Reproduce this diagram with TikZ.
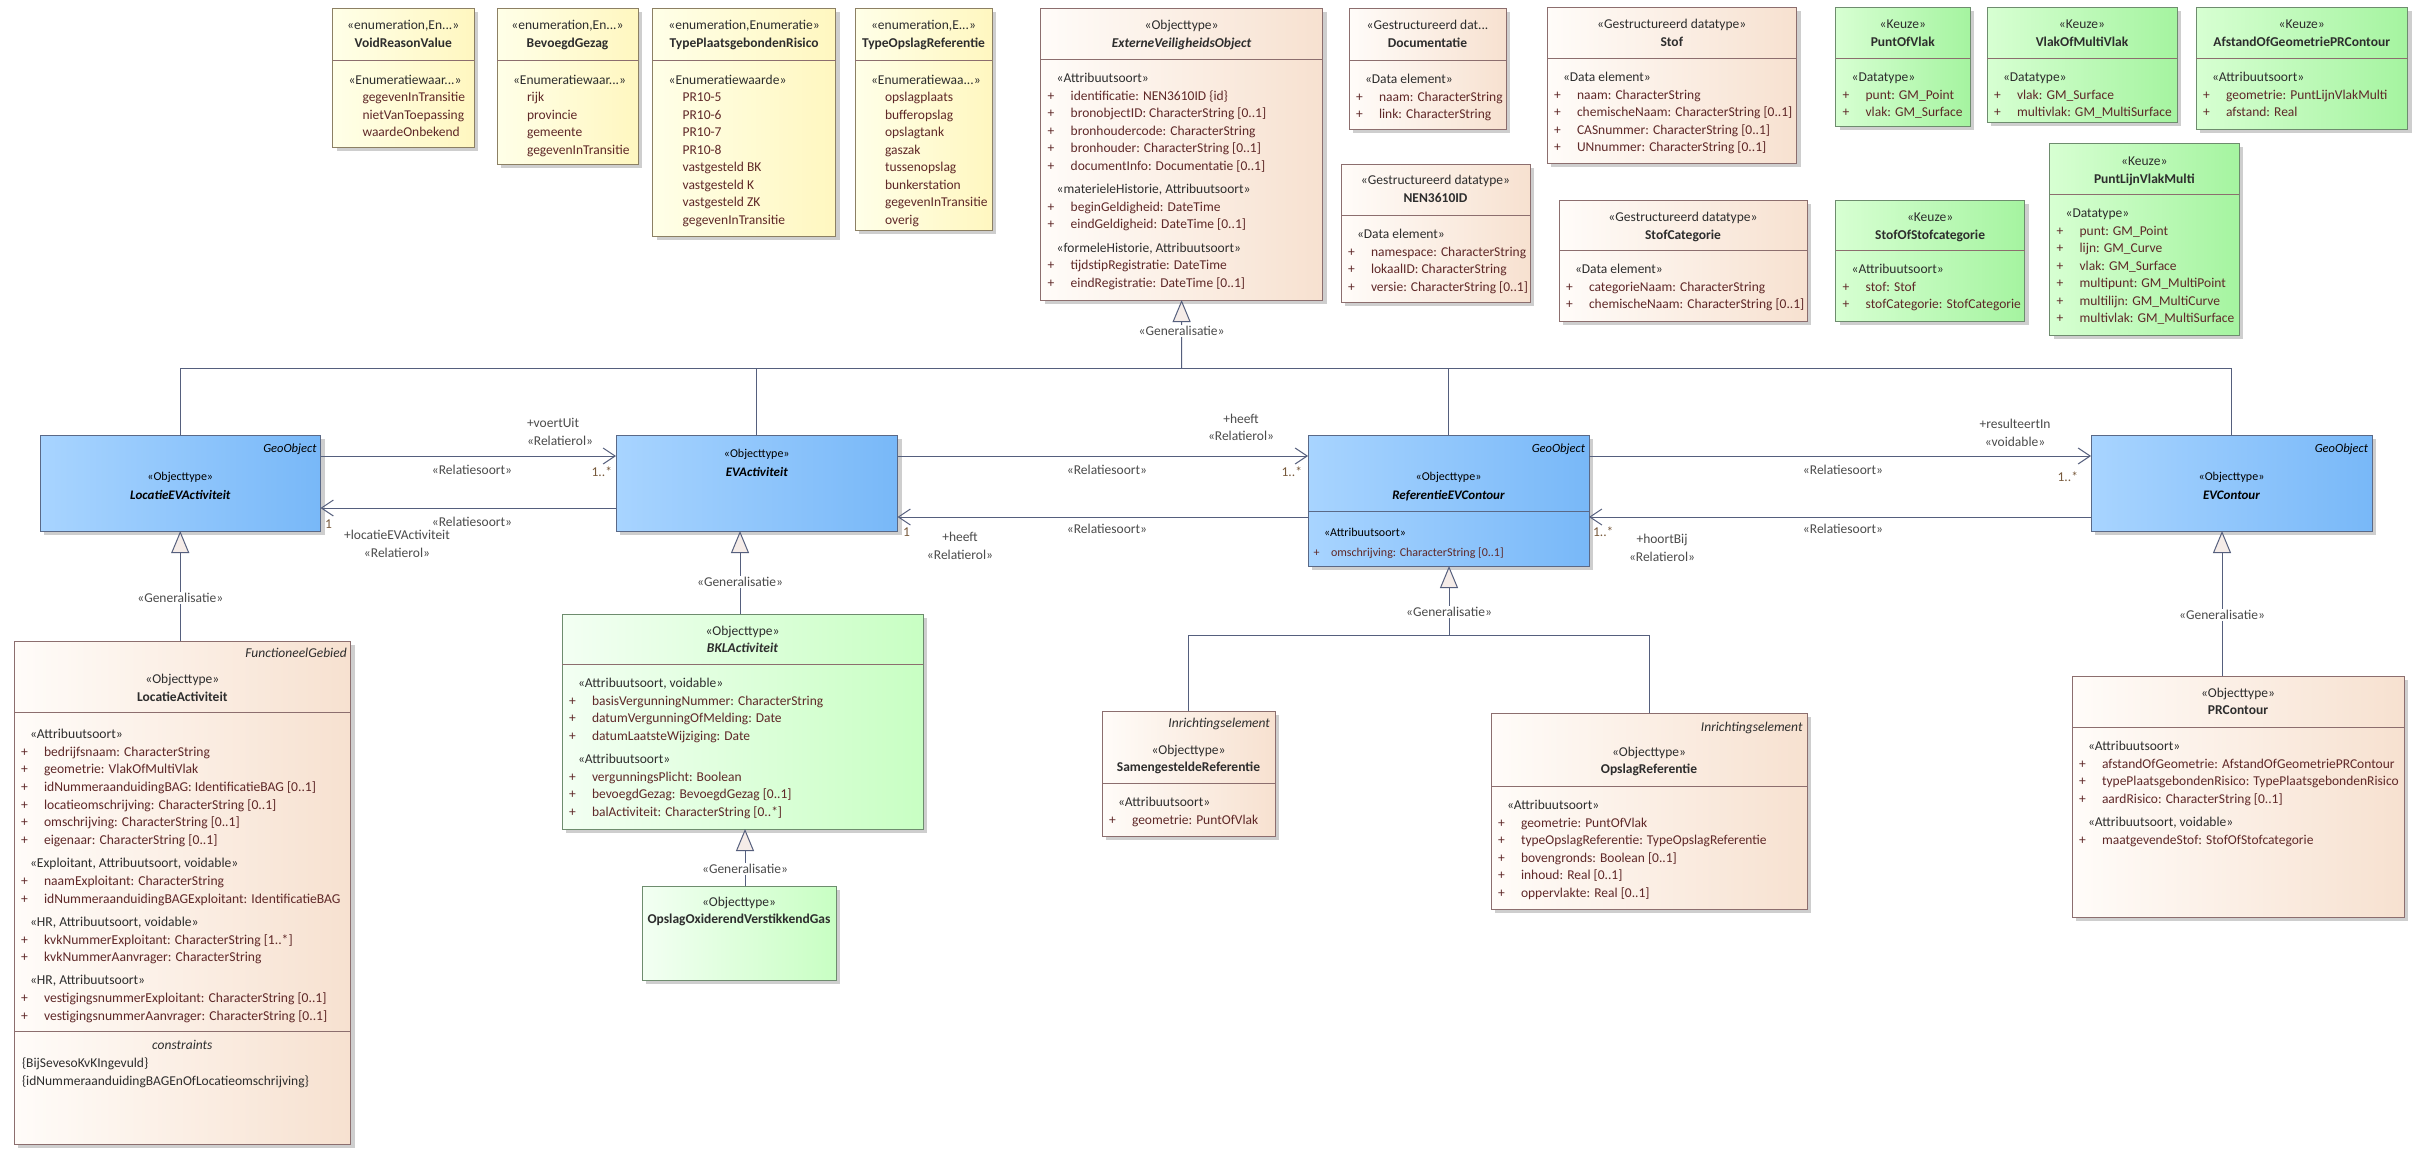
\documentclass[tikz,border=0pt]{standalone}
\usepackage{fontspec}
\setmainfont{Carlito}
\usetikzlibrary{arrows.meta,shadows}
\definecolor{stcol}{RGB}{45,45,45}
\definecolor{namecol}{RGB}{45,45,45}
\definecolor{attcol}{RGB}{95,40,40}
\definecolor{lblcol}{RGB}{75,75,75}
\definecolor{mulcol}{RGB}{120,90,60}
\definecolor{linecol}{RGB}{85,95,125}
\definecolor{genfill}{RGB}{245,236,232}
\definecolor{enumL}{RGB}{255,255,232}
\definecolor{enumR}{RGB}{255,247,192}
\definecolor{enumBd}{RGB}{140,128,100}
\definecolor{peachL}{RGB}{255,252,249}
\definecolor{peachR}{RGB}{247,225,208}
\definecolor{peachBd}{RGB}{140,110,110}
\definecolor{keuzeL}{RGB}{215,255,210}
\definecolor{keuzeR}{RGB}{165,244,160}
\definecolor{greenBd}{RGB}{110,140,110}
\definecolor{bklL}{RGB}{243,255,243}
\definecolor{bklR}{RGB}{200,255,195}
\definecolor{blueL}{RGB}{168,212,255}
\definecolor{blueR}{RGB}{120,184,248}
\definecolor{blueBd}{RGB}{90,105,135}
\newcommand\fmain{\fontsize{13.5}{17.5}\selectfont}
\newcommand\bxstc[1]{{\color{stcol}#1}}
\newcommand\bxnm[1]{{\bfseries\color{namecol}#1}}
\newcommand\bxnmi[1]{{\bfseries\itshape\color{namecol}#1}}
\newcommand\bxst[1]{\hspace*{9pt}{\color{stcol}#1}}
\newcommand\bxat[1]{\makebox[23pt][l]{\color{attcol}+}{\color{attcol}#1}}
\newcommand\bxev[1]{\hspace*{23pt}{\color{attcol}#1}}
\newcommand\bxbox[6]{\node[#2,anchor=north west,minimum width=#5pt,minimum height=#6pt] (#1) at (#3,#4) {};}
\newcommand\bxsep[2]{\draw[sepline] (#1.west |- 0,#2) -- (#1.east |- 0,#2);}
\newcommand\bxhdr[4]{\node[txt,anchor=base] (#1) at (#2,#3) {\begin{tabular}[t]{@{}c@{}}#4\end{tabular}};}
\newcommand\bxcmp[4]{\node[txt,anchor=base west] (#1) at (#2,#3) {\begin{tabular}[t]{@{}l@{}}#4\end{tabular}};}
\tikzset{
  basebox/.style={inner sep=0pt,outer sep=0pt,line width=0.9pt,
    drop shadow={shadow xshift=4pt,shadow yshift=-4pt,fill=black!35,opacity=0.55}},
  enumbox/.style={basebox,draw=enumBd,left color=enumL,right color=enumR},
  peachbox/.style={basebox,draw=peachBd,left color=peachL,right color=peachR},
  keuzebox/.style={basebox,draw=greenBd,left color=keuzeL,right color=keuzeR},
  bklbox/.style={basebox,draw=greenBd,left color=bklL,right color=bklR},
  bluebox/.style={basebox,draw=blueBd,left color=blueL,right color=blueR},
  sepline/.style={draw=peachBd,line width=0.9pt},
  txt/.style={inner sep=0pt,outer sep=0pt,font=\fmain},
  lbl/.style={txt,text=lblcol},
  mul/.style={txt,text=mulcol},
  glabel/.style={txt,text=lblcol,fill=white,inner sep=1.5pt},
  genline/.style={draw=linecol,line width=1pt},
  gen/.style={genline,-{Triangle[length=22pt,width=18pt,fill=genfill]}},
  assoc/.style={draw=linecol,line width=1pt,-{Straight Barb[length=12pt,width=16pt]}},
}
\begin{document}
\begin{tikzpicture}[x=1pt,y=-1pt]
\fill[white] (0,0) rectangle (2428,1162);
\useasboundingbox (0,0) rectangle (2428,1162);

% ---------- enumerations ----------
\bxbox{voidr}{enumbox}{332.5}{8}{141.5}{139}
\bxsep{voidr}{60}
\bxhdr{voidrh}{403.25}{29.5}{\bxstc{«enumeration,En...»}\\\bxnm{VoidReasonValue}}
\bxcmp{voidra}{339.5}{84}{\bxst{«Enumeratiewaar...»}\\\bxev{gegevenInTransitie}\\\bxev{nietVanToepassing}\\\bxev{waardeOnbekend}}

\bxbox{bevg}{enumbox}{497}{8}{141}{156}
\bxsep{bevg}{60}
\bxhdr{bevgh}{567.5}{29.5}{\bxstc{«enumeration,En...»}\\\bxnm{BevoegdGezag}}
\bxcmp{bevga}{504}{84}{\bxst{«Enumeratiewaar...»}\\\bxev{rijk}\\\bxev{provincie}\\\bxev{gemeente}\\\bxev{gegevenInTransitie}}

\bxbox{tpr}{enumbox}{652.6}{8}{183}{228}
\bxsep{tpr}{60}
\bxhdr{tprh}{744.1}{29.5}{\bxstc{«enumeration,Enumeratie»}\\\bxnm{TypePlaatsgebondenRisico}}
\bxcmp{tpra}{659.6}{84}{\bxst{«Enumeratiewaarde»}\\\bxev{PR10-5}\\\bxev{PR10-6}\\\bxev{PR10-7}\\\bxev{PR10-8}\\\bxev{vastgesteld BK}\\\bxev{vastgesteld K}\\\bxev{vastgesteld ZK}\\\bxev{gegevenInTransitie}}

\bxbox{tor}{enumbox}{855}{8}{137}{222}
\bxsep{tor}{60}
\bxhdr{torh}{923.5}{29.5}{\bxstc{«enumeration,E...»}\\\bxnm{TypeOpslagReferentie}}
\bxcmp{tora}{862}{84}{\bxst{«Enumeratiewaa...»}\\\bxev{opslagplaats}\\\bxev{bufferopslag}\\\bxev{opslagtank}\\\bxev{gaszak}\\\bxev{tussenopslag}\\\bxev{bunkerstation}\\\bxev{gegevenInTransitie}\\\bxev{overig}}

% ---------- ExterneVeiligheidsObject ----------
\bxbox{evo}{peachbox}{1040.7}{8}{281.8}{292}
\bxsep{evo}{59}
\bxhdr{evoh}{1181.6}{29.5}{\bxstc{«Objecttype»}\\\bxnmi{ExterneVeiligheidsObject}}
\bxcmp{evoa}{1047.7}{82.8}{\bxst{«Attribuutsoort»}\\\bxat{identificatie: NEN3610ID \{id\}}\\\bxat{bronobjectID: CharacterString [0..1]}\\\bxat{bronhoudercode: CharacterString}\\\bxat{bronhouder: CharacterString [0..1]}\\\bxat{documentInfo: Documentatie [0..1]}\\[6pt]\bxst{«materieleHistorie, Attribuutsoort»}\\\bxat{beginGeldigheid: DateTime}\\\bxat{eindGeldigheid: DateTime [0..1]}\\[6pt]\bxst{«formeleHistorie, Attribuutsoort»}\\\bxat{tijdstipRegistratie: DateTime}\\\bxat{eindRegistratie: DateTime [0..1]}}

% ---------- datatypes ----------
\bxbox{doc}{peachbox}{1349}{8}{157}{121}
\bxsep{doc}{60}
\bxhdr{doch}{1427.5}{29.5}{\bxstc{«Gestructureerd dat...}\\\bxnm{Documentatie}}
\bxcmp{doca}{1356}{83.8}{\bxst{«Data element»}\\\bxat{naam: CharacterString}\\\bxat{link: CharacterString}}

\bxbox{nen}{peachbox}{1341}{164}{189}{138}
\bxsep{nen}{215}
\bxhdr{nenh}{1435.5}{184.5}{\bxstc{«Gestructureerd datatype»}\\\bxnm{NEN3610ID}}
\bxcmp{nena}{1348}{238.8}{\bxst{«Data element»}\\\bxat{namespace: CharacterString}\\\bxat{lokaalID: CharacterString}\\\bxat{versie: CharacterString [0..1]}}

\bxbox{stof}{peachbox}{1547}{7}{249.5}{156}
\bxsep{stof}{58}
\bxhdr{stofh}{1671.75}{28.5}{\bxstc{«Gestructureerd datatype»}\\\bxnm{Stof}}
\bxcmp{stofa}{1554}{81.8}{\bxst{«Data element»}\\\bxat{naam: CharacterString}\\\bxat{chemischeNaam: CharacterString [0..1]}\\\bxat{CASnummer: CharacterString [0..1]}\\\bxat{UNnummer: CharacterString [0..1]}}

\bxbox{stofcat}{peachbox}{1559}{200}{248}{121}
\bxsep{stofcat}{250}
\bxhdr{stofcath}{1683}{221.5}{\bxstc{«Gestructureerd datatype»}\\\bxnm{StofCategorie}}
\bxcmp{stofcata}{1566}{273.8}{\bxst{«Data element»}\\\bxat{categorieNaam: CharacterString}\\\bxat{chemischeNaam: CharacterString [0..1]}}

% ---------- keuzes ----------
\bxbox{pov}{keuzebox}{1835.6}{7}{134.4}{119}
\bxsep{pov}{58}
\bxhdr{povh}{1902.8}{28.5}{\bxstc{«Keuze»}\\\bxnm{PuntOfVlak}}
\bxcmp{pova}{1842.6}{81.8}{\bxst{«Datatype»}\\\bxat{punt: GM\_Point}\\\bxat{vlak: GM\_Surface}}

\bxbox{vomv}{keuzebox}{1987}{7}{190}{115}
\bxsep{vomv}{58}
\bxhdr{vomvh}{2082}{28.5}{\bxstc{«Keuze»}\\\bxnm{VlakOfMultiVlak}}
\bxcmp{vomva}{1994}{81.8}{\bxst{«Datatype»}\\\bxat{vlak: GM\_Surface}\\\bxat{multivlak: GM\_MultiSurface}}

\bxbox{aog}{keuzebox}{2196}{7}{211.5}{122}
\bxsep{aog}{58}
\bxhdr{aogh}{2301.75}{28.5}{\bxstc{«Keuze»}\\\bxnm{AfstandOfGeometriePRContour}}
\bxcmp{aoga}{2203}{81.8}{\bxst{«Attribuutsoort»}\\\bxat{geometrie: PuntLijnVlakMulti}\\\bxat{afstand: Real}}

\bxbox{sos}{keuzebox}{1835.6}{200}{189}{121}
\bxsep{sos}{250}
\bxhdr{sosh}{1930.1}{221.5}{\bxstc{«Keuze»}\\\bxnm{StofOfStofcategorie}}
\bxcmp{sosa}{1842.6}{273.8}{\bxst{«Attribuutsoort»}\\\bxat{stof: Stof}\\\bxat{stofCategorie: StofCategorie}}

\bxbox{plvm}{keuzebox}{2049.6}{143}{189.4}{192}
\bxsep{plvm}{194}
\bxhdr{plvmh}{2144.3}{165.5}{\bxstc{«Keuze»}\\\bxnm{PuntLijnVlakMulti}}
\bxcmp{plvma}{2056.6}{217.8}{\bxst{«Datatype»}\\\bxat{punt: GM\_Point}\\\bxat{lijn: GM\_Curve}\\\bxat{vlak: GM\_Surface}\\\bxat{multipunt: GM\_MultiPoint}\\\bxat{multilijn: GM\_MultiCurve}\\\bxat{multivlak: GM\_MultiSurface}}

% ---------- blue objecttypes ----------
\bxbox{lea}{bluebox}{40}{435}{280.5}{96}
\node[txt,anchor=base east,font=\fontsize{12.5}{15}\selectfont\itshape] (leag) at (316.5,452) {GeoObject};
\node[txt,anchor=base,font=\fontsize{12}{19}\selectfont] (leah) at (180.25,480) {\begin{tabular}[t]{@{}c@{}}«Objecttype»\\{\fontsize{13}{19}\selectfont\bfseries\itshape LocatieEVActiviteit}\end{tabular}};

\bxbox{eva}{bluebox}{616}{435}{281.5}{96}
\node[txt,anchor=base,font=\fontsize{12}{19}\selectfont] (evah) at (756.75,457) {\begin{tabular}[t]{@{}c@{}}«Objecttype»\\{\fontsize{13}{19}\selectfont\bfseries\itshape EVActiviteit}\end{tabular}};

\bxbox{revc}{bluebox}{1308}{435}{281}{131}
\draw[draw=blueBd,line width=0.9pt] (revc.west |- 0,511) -- (revc.east |- 0,511);
\node[txt,anchor=base east,font=\fontsize{12.5}{15}\selectfont\itshape] (revcg) at (1585,452) {GeoObject};
\node[txt,anchor=base,font=\fontsize{12}{19}\selectfont] (revch) at (1448.5,480) {\begin{tabular}[t]{@{}c@{}}«Objecttype»\\{\fontsize{13}{19}\selectfont\bfseries\itshape ReferentieEVContour}\end{tabular}};
\node[txt,anchor=base west,font=\fontsize{12}{20}\selectfont] (revca) at (1313.5,536) {\begin{tabular}[t]{@{}l@{}}\hspace*{10.5pt}«Attribuutsoort»\\\makebox[17.5pt][l]{\color{attcol}+}{\color{attcol}omschrijving: CharacterString [0..1]}\end{tabular}};

\bxbox{evc}{bluebox}{2091}{435}{281}{96}
\node[txt,anchor=base east,font=\fontsize{12.5}{15}\selectfont\itshape] (evcg) at (2368,452) {GeoObject};
\node[txt,anchor=base,font=\fontsize{12}{19}\selectfont] (evch) at (2231.5,480) {\begin{tabular}[t]{@{}c@{}}«Objecttype»\\{\fontsize{13}{19}\selectfont\bfseries\itshape EVContour}\end{tabular}};

% ---------- LocatieActiviteit ----------
\bxbox{la}{peachbox}{14}{641}{336.7}{503}
\bxsep{la}{712}
\bxsep{la}{1031.5}
\node[txt,anchor=base east,font=\fmain\itshape,text=stcol] (lag) at (346.7,657.5) {FunctioneelGebied};
\node[txt,anchor=base,font=\fontsize{13.5}{18}\selectfont] (lah) at (182.35,683.3) {\begin{tabular}[t]{@{}c@{}}\bxstc{«Objecttype»}\\\bxnm{LocatieActiviteit}\end{tabular}};
\node[txt,anchor=base west,font=\fontsize{13.6}{17.7}\selectfont] (laa) at (21,738.3) {\begin{tabular}[t]{@{}l@{}}\bxst{«Attribuutsoort»}\\\bxat{bedrijfsnaam: CharacterString}\\\bxat{geometrie: VlakOfMultiVlak}\\\bxat{idNummeraanduidingBAG: IdentificatieBAG [0..1]}\\\bxat{locatieomschrijving: CharacterString [0..1]}\\\bxat{omschrijving: CharacterString [0..1]}\\\bxat{eigenaar: CharacterString [0..1]}\\[5.5pt]\bxst{«Exploitant, Attribuutsoort, voidable»}\\\bxat{naamExploitant: CharacterString}\\\bxat{idNummeraanduidingBAGExploitant: IdentificatieBAG}\\[5.5pt]\bxst{«HR, Attribuutsoort, voidable»}\\\bxat{kvkNummerExploitant: CharacterString [1..*]}\\\bxat{kvkNummerAanvrager: CharacterString}\\[5.5pt]\bxst{«HR, Attribuutsoort»}\\\bxat{vestigingsnummerExploitant: CharacterString [0..1]}\\\bxat{vestigingsnummerAanvrager: CharacterString [0..1]}\end{tabular}};
\node[txt,anchor=base,font=\fmain\itshape,text=stcol] (lac) at (182.35,1049.3) {constraints};
\node[txt,anchor=base west,text=stcol] (lac1) at (22,1067.3) {\{BijSevesoKvKIngevuld\}};
\node[txt,anchor=base west,text=stcol] (lac2) at (22,1085.3) {\{idNummeraanduidingBAGEnOfLocatieomschrijving\}};

% ---------- BKLActiviteit ----------
\bxbox{bkl}{bklbox}{562}{614}{361}{215}
\bxsep{bkl}{664}
\bxhdr{bklh}{742.5}{635.3}{\bxstc{«Objecttype»}\\\bxnmi{BKLActiviteit}}
\bxcmp{bkla}{569}{687.8}{\bxst{«Attribuutsoort, voidable»}\\\bxat{basisVergunningNummer: CharacterString}\\\bxat{datumVergunningOfMelding: Date}\\\bxat{datumLaatsteWijziging: Date}\\[6pt]\bxst{«Attribuutsoort»}\\\bxat{vergunningsPlicht: Boolean}\\\bxat{bevoegdGezag: BevoegdGezag [0..1]}\\\bxat{balActiviteit: CharacterString [0..*]}}

\bxbox{oovg}{bklbox}{642}{886}{194}{94}
\bxhdr{oovgh}{739}{906.3}{\bxstc{«Objecttype»}\\\bxnm{OpslagOxiderendVerstikkendGas}}

% ---------- referenties ----------
\bxbox{sr}{peachbox}{1102}{711}{173}{125}
\bxsep{sr}{783}
\node[txt,anchor=base east,font=\fmain\itshape,text=stcol] (srg) at (1270,727.3) {Inrichtingselement};
\bxhdr{srh}{1188.5}{754.3}{\bxstc{«Objecttype»}\\\bxnm{SamengesteldeReferentie}}
\bxcmp{sra}{1109}{806.8}{\bxst{«Attribuutsoort»}\\\bxat{geometrie: PuntOfVlak}}

\bxbox{or}{peachbox}{1491}{713}{316}{196}
\bxsep{or}{786}
\node[txt,anchor=base east,font=\fmain\itshape,text=stcol] (org) at (1802.5,731.3) {Inrichtingselement};
\bxhdr{orh}{1649}{756.3}{\bxstc{«Objecttype»}\\\bxnm{OpslagReferentie}}
\bxcmp{ora}{1498}{809.8}{\bxst{«Attribuutsoort»}\\\bxat{geometrie: PuntOfVlak}\\\bxat{typeOpslagReferentie: TypeOpslagReferentie}\\\bxat{bovengronds: Boolean [0..1]}\\\bxat{inhoud: Real [0..1]}\\\bxat{oppervlakte: Real [0..1]}}

% ---------- PRContour ----------
\bxbox{prc}{peachbox}{2072}{676}{332}{241}
\bxsep{prc}{727}
\bxhdr{prch}{2238}{697.3}{\bxstc{«Objecttype»}\\\bxnm{PRContour}}
\bxcmp{prca}{2079}{750.8}{\bxst{«Attribuutsoort»}\\\bxat{afstandOfGeometrie: AfstandOfGeometriePRContour}\\\bxat{typePlaatsgebondenRisico: TypePlaatsgebondenRisico}\\\bxat{aardRisico: CharacterString [0..1]}\\[6pt]\bxst{«Attribuutsoort, voidable»}\\\bxat{maatgevendeStof: StofOfStofcategorie}}

% ---------- generalisations ----------
\coordinate (gj) at (1181.6,368);
\draw[gen] (gj) -- (evo.south);
\draw[genline] (lea.north) -- (lea.north |- gj) -- (evc.north |- gj) -- (evc.north);
\draw[genline] (eva.north) -- (eva.north |- gj);
\draw[genline] (revc.north) -- (revc.north |- gj);
\node[glabel] (g1) at (1181.6,331) {«Generalisatie»};

\draw[gen] (la.north -| lea.south) -- (lea.south);
\node[glabel] (g2) at (180.25,598) {«Generalisatie»};

\coordinate (c3) at (740,582);
\draw[gen] (bkl.north -| c3) -- (eva.south -| c3);
\node[glabel] (g3) at (c3) {«Generalisatie»};

\coordinate (c4) at (745,869);
\draw[gen] (oovg.north -| c4) -- (bkl.south -| c4);
\node[glabel] (g4) at (c4) {«Generalisatie»};

\coordinate (rj) at (1449,635);
\draw[gen] (rj) -- (revc.south -| rj);
\draw[genline] (sr.north) -- (sr.north |- rj) -- (or.north |- rj) -- (or.north);
\node[glabel] (g5) at (1449,612) {«Generalisatie»};

\coordinate (c6) at (2222,615);
\draw[gen] (prc.north -| c6) -- (evc.south -| c6);
\node[glabel] (g6) at (c6) {«Generalisatie»};

% ---------- associations ----------
\draw[assoc] (lea.east |- 0,456) -- (eva.west |- 0,456);
\draw[assoc] (eva.west |- 0,508) -- (lea.east |- 0,508);
\draw[assoc] (eva.east |- 0,456) -- (revc.west |- 0,456);
\draw[assoc] (revc.west |- 0,517) -- (eva.east |- 0,517);
\draw[assoc] (revc.east |- 0,456) -- (evc.west |- 0,456);
\draw[assoc] (evc.west |- 0,517) -- (revc.east |- 0,517);

\node[lbl,anchor=base west] (a1) at (527,427.3) {+voertUit};
\node[lbl,anchor=base west] (a2) at (527,445.3) {«Relatierol»};
\node[lbl,anchor=base] (a3) at (472,474.3) {«Relatiesoort»};
\node[mul,anchor=base east] (a4) at (612,476.3) {1..*};
\node[mul,anchor=base west] (a5) at (325,528.3) {1};
\node[lbl,anchor=base] (a6) at (472,526.3) {«Relatiesoort»};
\node[lbl,anchor=base] (a7) at (397,539.3) {+locatieEVActiviteit};
\node[lbl,anchor=base] (a8) at (397,557.3) {«Relatierol»};

\node[lbl,anchor=base] (b1) at (1241,423.3) {+heeft};
\node[lbl,anchor=base] (b2) at (1241,440.3) {«Relatierol»};
\node[lbl,anchor=base] (b3) at (1107,474.3) {«Relatiesoort»};
\node[mul,anchor=base east] (b4) at (1302,476.3) {1..*};
\node[mul,anchor=base west] (b5) at (903,536.3) {1};
\node[lbl,anchor=base] (b6) at (1107,533.3) {«Relatiesoort»};
\node[lbl,anchor=base] (b7) at (960,541.3) {+heeft};
\node[lbl,anchor=base] (b8) at (960,559.3) {«Relatierol»};

\node[lbl,anchor=base] (d1) at (2015,428.3) {+resulteertIn};
\node[lbl,anchor=base] (d2) at (2015,446.3) {«voidable»};
\node[lbl,anchor=base] (d3) at (1843,474.3) {«Relatiesoort»};
\node[mul,anchor=base east] (d4) at (2078,481.3) {1..*};
\node[mul,anchor=base west] (d5) at (1593,536.3) {1..*};
\node[lbl,anchor=base] (d6) at (1843,533.3) {«Relatiesoort»};
\node[lbl,anchor=base] (d7) at (1662,543.3) {+hoortBij};
\node[lbl,anchor=base] (d8) at (1662,561.3) {«Relatierol»};
\end{tikzpicture}
\end{document}
